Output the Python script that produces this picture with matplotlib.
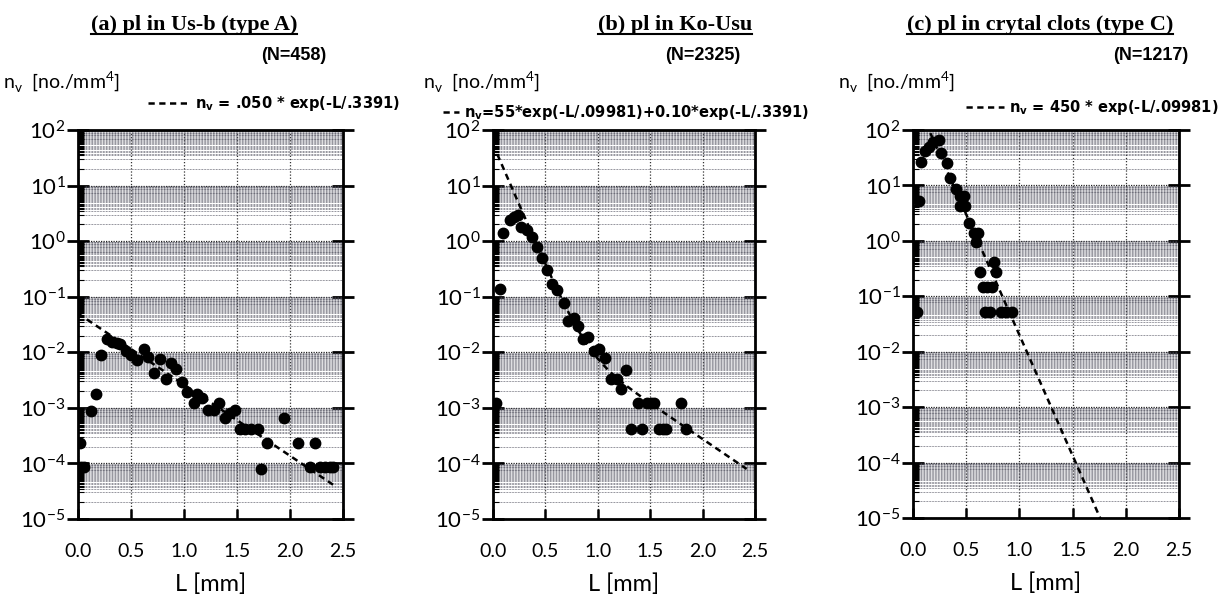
import matplotlib
matplotlib.use("Agg")
import matplotlib.pyplot as plt
import numpy as np
from matplotlib.lines import Line2D
from matplotlib.ticker import LogLocator, FixedLocator, FixedFormatter, NullFormatter

plt.rcParams["font.family"] = ["Lato", "DejaVu Sans"]
plt.rcParams["mathtext.fontset"] = "custom"
plt.rcParams["mathtext.rm"] = "Lato"
plt.rcParams["mathtext.bf"] = "DejaVu Sans:bold"

# ---- data: crystal size L [mm] vs number density n_v [no./mm^4]
L_a = [0.02, 0.03, 0.06, 0.12, 0.17, 0.22, 0.27, 0.32, 0.365, 0.40, 0.45, 0.50,
       0.56, 0.62, 0.66, 0.72, 0.77, 0.83, 0.88, 0.92, 0.98, 1.03, 1.09, 1.12,
       1.17, 1.23, 1.28, 1.33, 1.39, 1.43, 1.48, 1.53, 1.58, 1.63, 1.70, 1.73,
       1.78, 1.94, 2.08, 2.19, 2.24, 2.28, 2.33, 2.38, 2.41]
nv_a = [2.3e-4, 8.5e-5, 8.5e-5, 8.7e-4, 1.8e-3, 9.0e-3, 1.7e-2, 1.55e-2, 1.48e-2,
        1.39e-2, 1.07e-2, 8.8e-3, 7.4e-3, 1.15e-2, 8.2e-3, 4.2e-3, 7.6e-3, 3.3e-3,
        6.3e-3, 5.1e-3, 2.9e-3, 1.9e-3, 1.2e-3, 1.8e-3, 1.5e-3, 9.0e-4, 9.0e-4,
        1.2e-3, 6.6e-4, 8.0e-4, 9.0e-4, 4.2e-4, 4.2e-4, 4.2e-4, 4.2e-4, 8.0e-5,
        2.3e-4, 6.5e-4, 2.3e-4, 8.5e-5, 2.3e-4, 8.5e-5, 8.5e-5, 8.5e-5, 8.5e-5]

L_b = [0.03, 0.067, 0.10, 0.16, 0.20, 0.24, 0.27, 0.32, 0.37, 0.42, 0.47, 0.52,
       0.56, 0.61, 0.68, 0.72, 0.77, 0.81, 0.86, 0.91, 0.96, 1.01, 1.07, 1.13,
       1.18, 1.22, 1.27, 1.32, 1.38, 1.42, 1.47, 1.51, 1.54, 1.58, 1.62, 1.65,
       1.79, 1.84]
nv_b = [1.2e-3, 0.14, 1.4, 2.4, 2.7, 3.0, 1.8, 1.6, 1.2, 0.79, 0.49, 0.30,
        0.17, 0.13, 0.078, 0.037, 0.041, 0.030, 0.017, 0.019, 0.0107, 0.0115,
        0.0079, 0.0033, 0.0033, 0.0022, 0.0048, 4.2e-4, 1.2e-3, 4.2e-4, 1.2e-3,
        1.2e-3, 1.2e-3, 4.2e-4, 4.2e-4, 4.2e-4, 1.2e-3, 4.2e-4]

L_c = [0.04, 0.053, 0.075, 0.115, 0.15, 0.19, 0.24, 0.26, 0.32, 0.35, 0.40,
       0.44, 0.48, 0.44, 0.49, 0.53, 0.57, 0.61, 0.59, 0.63, 0.76, 0.78, 0.66,
       0.70, 0.74, 0.68, 0.72, 0.83, 0.87, 0.93]
nv_c = [0.051, 5.3, 27, 41, 50, 61, 65, 38, 25, 13.4, 8.7, 6.5, 6.5, 4.2, 4.2,
        2.1, 1.37, 1.37, 0.96, 0.27, 0.42, 0.27, 0.148, 0.148, 0.148, 0.051,
        0.051, 0.051, 0.051, 0.051]

titles = ["(a) pl in Us-b (type A)", "(b) pl in Ko-Usu", "(c) pl in crytal clots (type C)"]
counts = ["(N=458)", "(N=2325)", "(N=1217)"]
fit_labels = [r"n$_\mathbf{v}$ = .050 * exp(-L/.3391)",
              r"n$_\mathbf{v}$=55*exp(-L/.09981)+0.10*exp(-L/.3391)",
              r"n$_\mathbf{v}$ = 450 * exp(-L/.09981)"]
x_ticks = [0.0, 0.5, 1.0, 1.5, 2.0, 2.5]
x_ticklabels = ["0.0", "0.5", "1.0", "1.5", "2.0", "2.5"]


def fit_a(L):
    return 0.050 * np.exp(-L / 0.3391)


def fit_b(L):
    return 55 * np.exp(-L / 0.09981) + 0.10 * np.exp(-L / 0.3391)


def fit_c(L):
    return 450 * np.exp(-L / 0.09981)


fits = [(fit_a, 2.42), (fit_b, 2.42), (fit_c, 1.77)]
data = [(L_a, nv_a), (L_b, nv_b), (L_c, nv_c)]

W, H = 1224, 597
fig = plt.figure(figsize=(W / 100, H / 100), dpi=100)

# axes boxes in pixels: left, right, top, bottom
boxes = [(78, 343, 130, 519), (493, 755, 130, 519), (913, 1179, 130, 518)]
title_cx = [194, 675, 1040]
count_right = [326, 740, 1188]
ylab_left = [3, 423, 838]
leg_anchor = [(1.215, 1.069), (1.205, 1.044), (1.147, 1.059)]
leg_handle = [2.9, 1.1, 2.6]

# semi-log paper: a few lines low in each decade, dense rulings near the top
minor_subs = [2.0, 3.0] + list(np.arange(3.5, 10.0, 0.25))

title_texts = []
for i in range(3):
    l, r, t, b = boxes[i]
    ax = fig.add_axes([l / W, 1 - b / H, (r - l) / W, (b - t) / H])
    ax.set_yscale("log")
    ax.set_xlim(0, 2.5)
    ax.set_ylim(1e-5, 1e2)

    ax.yaxis.set_major_locator(LogLocator(base=10, numticks=20))
    ax.yaxis.set_minor_locator(LogLocator(base=10, subs=minor_subs, numticks=400))
    ax.yaxis.set_minor_formatter(NullFormatter())
    ax.xaxis.set_major_locator(FixedLocator(x_ticks))
    ax.xaxis.set_major_formatter(FixedFormatter(x_ticklabels))

    ax.grid(True, which="minor", axis="y", color="#50505e", lw=0.55, ls=(0, (1, 1)))
    ax.grid(True, which="major", axis="y", color="#222222", lw=0.9, ls=(0, (1, 1)))
    ax.grid(True, which="major", axis="x", color="#333333", lw=0.9, ls=(0, (1, 1.5)))

    for s in ax.spines.values():
        s.set_linewidth(2)
    ax.tick_params(axis="y", which="major", direction="inout", length=16, width=2,
                   left=True, right=True, labelsize=16, pad=1)
    ax.tick_params(axis="y", which="minor", direction="in", length=4, width=0.8,
                   left=True, right=False)
    ax.tick_params(axis="x", which="major", direction="in", length=7, width=1.8,
                   labelsize=14, pad=17, top=False)

    fit, Lmax = fits[i]
    Lf = np.linspace(0, Lmax, 300)
    ax.plot(Lf, fit(Lf), color="black", lw=1.8, dashes=(2.5, 1.8),
            label=fit_labels[i], zorder=3)
    L, nv = data[i]
    ax.plot(L, nv, "o", color="black", ms=7.5, zorder=4)

    ax.legend(loc="center right", bbox_to_anchor=leg_anchor[i], frameon=False,
              borderpad=0, borderaxespad=0, handlelength=leg_handle[i],
              handletextpad=0.3, prop={"family": "DejaVu Sans",
                                       "weight": "bold", "size": 10.5})

    ax.set_xlabel("L [mm]", fontsize=17, labelpad=10)

    tt = fig.text(title_cx[i] / W, 1 - 30 / H, titles[i], ha="center", va="baseline",
                  family="Liberation Serif", weight="bold", fontsize=16)
    title_texts.append(tt)
    fig.text(count_right[i] / W, 1 - 55 / H, counts[i], ha="right", va="center",
             family="Liberation Sans", weight="bold", fontsize=13)
    fig.text(ylab_left[i] / W, 1 - 82 / H, r"n$_\mathrm{v}$  [no./mm$^\mathrm{4}$]",
             ha="left", va="center", fontsize=14)

# underline the panel titles
fig.canvas.draw()
renderer = fig.canvas.get_renderer()
for tt in title_texts:
    bb = tt.get_window_extent(renderer)
    y = bb.y0 + 1
    fig.add_artist(Line2D([bb.x0 / W, bb.x1 / W], [y / H, y / H], color="black",
                          lw=1.5, transform=fig.transFigure))

fig.savefig("out.png", dpi=100)
